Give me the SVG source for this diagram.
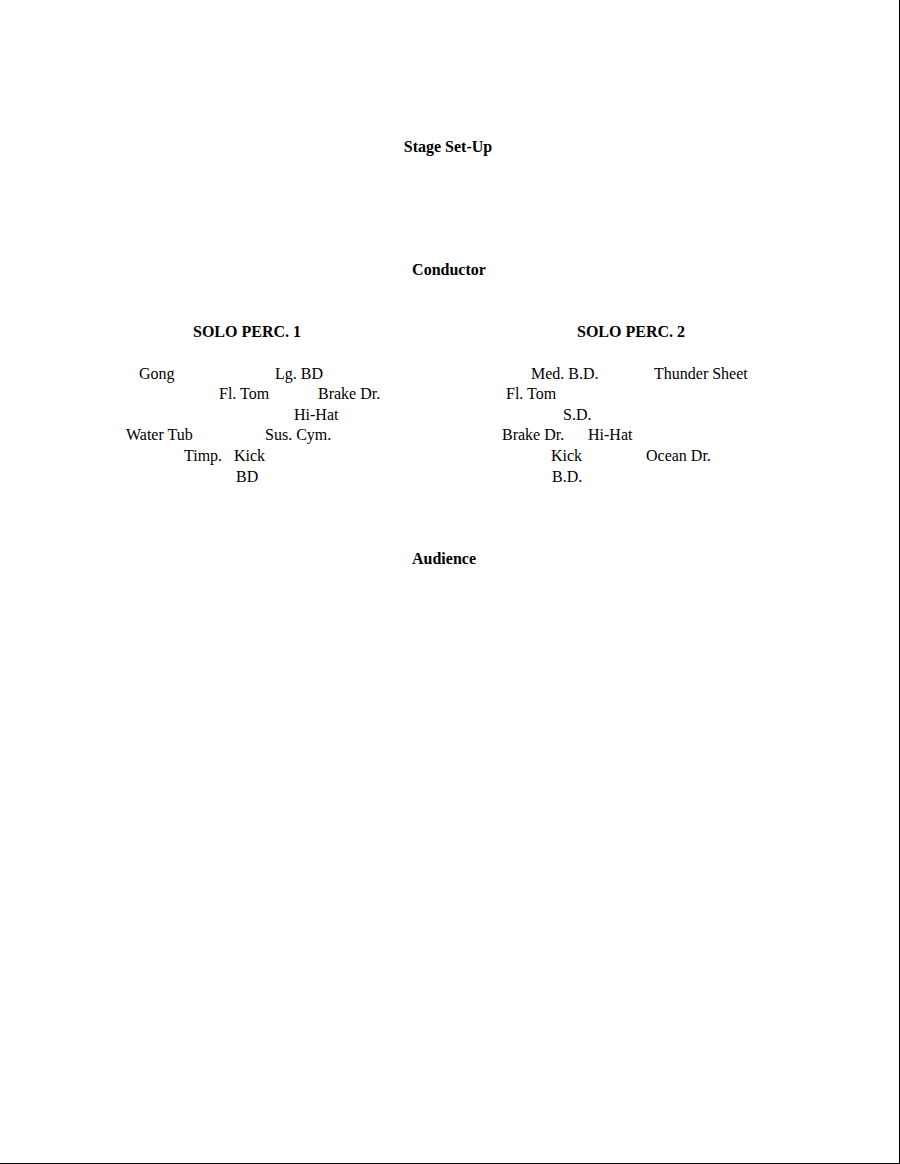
<svg xmlns="http://www.w3.org/2000/svg" width="900" height="1164" viewBox="0 0 900 1164">
<style>
text{font-family:"Liberation Serif","Times New Roman",serif;font-size:16px;fill:#000}
.b{font-weight:bold}
</style>
<rect width="900" height="1164" fill="#fff"/>
<line x1="899.5" y1="0" x2="899.5" y2="1164" stroke="#000"/>
<line x1="0" y1="1163.5" x2="900" y2="1163.5" stroke="#000"/>
<g id="title"><text class="b" x="448" y="152" text-anchor="middle">Stage Set-Up</text></g>
<g id="conductor"><text class="b" x="449" y="275" text-anchor="middle">Conductor</text></g>
<g id="solo1"><text class="b" x="247" y="337" text-anchor="middle">SOLO PERC. 1</text></g>
<g id="solo2"><text class="b" x="631" y="337" text-anchor="middle">SOLO PERC. 2</text></g>
<g id="p1">
<text x="139" y="379">Gong</text>
<text x="275" y="379">Lg. BD</text>
<text x="219" y="399">Fl. Tom</text>
<text x="318" y="399">Brake Dr.</text>
<text x="294" y="420">Hi-Hat</text>
<text x="126" y="440">Water Tub</text>
<text x="265" y="440">Sus. Cym.</text>
<text x="184" y="461">Timp.</text>
<text x="234" y="461">Kick</text>
<text x="236" y="482">BD</text>
</g>
<g id="p2">
<text x="531" y="379">Med. B.D.</text>
<text x="654" y="379">Thunder Sheet</text>
<text x="506" y="399">Fl. Tom</text>
<text x="563" y="420">S.D.</text>
<text x="502" y="440">Brake Dr.</text>
<text x="588" y="440">Hi-Hat</text>
<text x="551" y="461">Kick</text>
<text x="646" y="461">Ocean Dr.</text>
<text x="552" y="482">B.D.</text>
</g>
<g id="audience"><text class="b" x="444" y="564" text-anchor="middle">Audience</text></g>
<g id="connectors"/>
</svg>
